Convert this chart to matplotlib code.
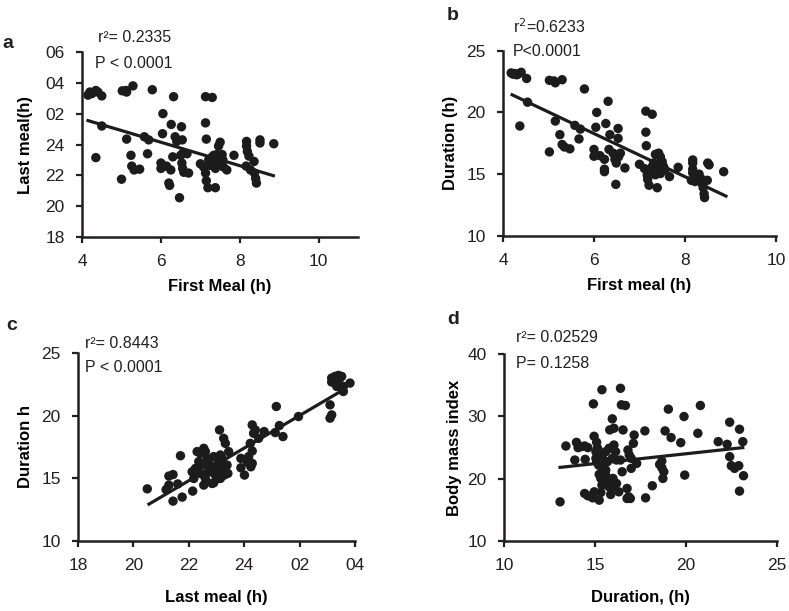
import matplotlib
matplotlib.use("Agg")
import matplotlib.pyplot as plt

plt.rcParams["font.family"] = ["Liberation Sans", "DejaVu Sans"]

# Panel a: first meal (h) vs last meal (h, past midnight written as 24+)
first_a = [4.15, 4.2, 4.25, 4.35, 4.4, 4.5, 4.5, 4.35, 5.02, 5.12, 5.13, 5.29, 5.78,
           5.13, 5.24, 5.26, 5.32, 5.46, 5.0, 5.58, 5.69, 5.66, 6.05, 6.04, 6.0, 6.0,
           6.14, 6.2, 6.22, 6.25, 6.26, 6.32, 6.3, 6.36, 6.4, 6.5, 6.52, 6.54, 6.47,
           6.53, 6.55, 6.58, 6.66, 6.7, 6.56, 7.13, 7.3, 7.13, 7.15, 7.0, 7.08, 7.13,
           7.15, 7.19, 7.38, 7.21, 7.3, 7.34, 7.38, 7.42, 7.46, 7.5, 7.55, 7.57, 7.58,
           7.67, 7.34, 7.25, 7.46, 7.85, 8.17, 8.17, 8.19, 8.23, 8.16, 8.27, 8.36, 8.37,
           8.4, 8.42, 8.51, 8.51, 8.86]
last_a = [27.2, 27.4, 27.3, 27.5, 27.4, 27.15, 25.2, 23.15, 27.48, 27.5, 27.4, 27.8, 27.55,
          24.35, 23.3, 22.6, 22.35, 22.4, 21.75, 24.5, 24.3, 23.4, 26.0, 24.7, 22.8, 22.45,
          22.6, 21.5, 21.35, 22.35, 25.3, 27.1, 23.2, 24.5, 24.2, 23.3, 25.15, 24.3, 20.55,
          22.8, 22.45, 22.2, 23.4, 22.15, 23.45, 27.1, 27.05, 25.4, 24.35, 22.75, 22.55, 22.15,
          21.65, 21.2, 21.2, 23.0, 23.2, 22.8, 22.45, 23.35, 23.9, 24.15, 23.35, 23.0, 22.55,
          22.35, 23.3, 22.65, 22.8, 23.3, 24.2, 23.9, 23.55, 23.25, 22.6, 22.35, 22.9, 22.15,
          21.8, 21.5, 24.3, 24.1, 24.05]
fit_a_x = [4.15, 8.85]
fit_a_y = [25.55, 21.98]

# Panel b: first meal vs duration
first_b = [4.18, 4.26, 4.33, 4.4, 4.3, 4.22, 4.52, 4.54, 4.37, 5.02, 5.12, 5.15, 5.3, 5.79,
           5.15, 5.25, 5.3, 5.35, 5.47, 5.02, 5.58, 5.7, 5.67, 6.06, 6.04, 6.31, 6.26, 6.35,
           6.53, 6.53, 6.0, 6.0, 6.13, 6.23, 6.23, 6.23, 6.33, 6.42, 6.46, 6.49, 6.54, 6.58,
           6.48, 6.68, 7.14, 7.28, 7.14, 7.15, 7.0, 7.11, 7.17, 7.18, 7.21, 7.39, 7.28, 7.35,
           7.42, 7.46, 7.31, 7.39, 7.46, 7.53, 7.5, 7.35, 7.28, 7.56, 7.42, 7.66, 7.85, 8.17,
           8.17, 8.17, 8.17, 8.14, 8.22, 8.31, 8.35, 8.38, 8.4, 8.42, 8.43, 8.49, 8.5, 8.53, 8.85]
dur_b = [23.2, 23.15, 23.1, 23.25, 23.05, 23.1, 22.75, 20.83, 18.9, 22.6, 22.55, 22.4, 22.65, 21.9,
         19.3, 18.2, 17.4, 17.2, 17.05, 16.8, 18.95, 18.65, 17.85, 20.0, 18.8, 20.9, 19.1, 18.2,
         18.7, 17.9, 17.0, 16.45, 16.5, 16.2, 15.4, 15.2, 17.0, 16.7, 16.2, 15.9, 16.4, 16.7,
         14.17, 15.5, 20.1, 19.85, 18.4, 17.3, 15.8, 15.45, 14.93, 14.57, 14.1, 13.9, 15.6, 16.6,
         16.7, 16.4, 15.9, 15.3, 15.05, 15.6, 16.0, 14.95, 15.05, 15.35, 15.75, 14.8, 15.55, 16.15,
         15.9, 15.4, 15.1, 14.5, 14.4, 15.0, 14.65, 14.2, 13.9, 13.4, 13.1, 14.5, 15.9, 15.75, 15.2]
fit_b_x = [4.2, 8.9]
fit_b_y = [21.43, 13.22]

# Panel c: last meal vs duration
last_c = [20.5, 21.18, 21.28, 21.28, 21.43, 21.43, 21.76, 21.7, 21.6, 22.14, 22.12, 22.18,
          22.3, 22.42, 22.54, 22.6, 22.36, 22.24, 22.48, 22.66, 22.72, 22.9, 22.54, 22.42,
          22.6, 22.54, 22.84, 22.9, 23.02, 23.08, 23.14, 23.2, 23.26, 22.78, 22.96, 23.14,
          23.08, 22.72, 23.11, 23.26, 23.32, 23.44, 23.38, 23.41, 23.14, 23.28, 22.9, 23.88,
          23.88, 24.01, 24.12, 24.16, 24.24, 24.29, 24.29, 24.22, 24.29, 24.34, 24.4, 24.52,
          24.72, 25.16, 25.12, 25.27, 25.4, 25.96, 27.1, 27.16, 27.1, 27.16, 27.28, 27.4,
          27.46, 27.52, 27.4, 27.34, 27.46, 27.58, 27.82, 27.16, 27.58]
dur_c = [14.16, 14.1, 14.46, 15.18, 15.3, 13.18, 13.5, 16.8, 14.55, 13.98, 15.52, 14.99,
         17.13, 16.99, 17.39, 17.13, 16.33, 15.79, 16.06, 16.59, 16.19, 16.73, 15.26, 15.39,
         14.99, 14.46, 14.59, 15.66, 16.06, 16.33, 16.86, 16.59, 15.79, 15.52, 15.26, 15.52,
         14.99, 15.66, 18.86, 18.19, 17.79, 17.13, 16.06, 15.39, 14.99, 15.26, 14.64, 16.59,
         15.84, 15.26, 16.27, 16.73, 15.92, 16.19, 17.18, 17.79, 19.26, 18.59, 18.86, 18.19,
         18.73, 20.73, 18.65, 19.21, 18.33, 19.93, 19.8, 20.06, 20.86, 23.0, 23.13, 23.21,
         23.0, 23.13, 22.46, 22.33, 22.33, 21.93, 22.6, 22.68, 22.33]
fit_c_x = [20.56, 27.58]
fit_c_y = [12.94, 22.06]

# Panel d: duration vs body mass index
dur_d = [13.08, 13.4, 13.89, 13.98, 14.07, 14.25, 14.43, 14.61, 14.46, 14.43, 14.61, 14.87,
         14.96, 14.91, 15.09, 15.05, 15.14, 15.09, 15.2, 15.23, 15.32, 15.38, 15.32, 15.23,
         15.14, 15.05, 14.95, 15.41, 15.59, 15.5, 15.59, 15.59, 15.41, 15.68, 15.77, 15.86,
         15.95, 15.99, 15.68, 15.77, 15.38, 15.95, 15.81, 16.04, 16.4, 16.45, 16.67, 16.54,
         16.04, 16.13, 15.95, 16.18, 16.4, 16.49, 16.31, 16.18, 16.76, 16.85, 16.94, 16.76,
         16.81, 16.88, 16.99, 16.99, 17.11, 17.15, 17.29, 17.74, 17.78, 18.15, 18.55, 18.67,
         18.78, 18.67, 18.73, 18.85, 19.03, 19.18, 19.71, 19.89, 19.93, 20.65, 20.79, 21.77,
         22.26, 22.4, 22.4, 22.49, 22.67, 22.9, 22.94, 23.12, 23.16, 22.94]
bmi_d = [16.28, 25.24, 22.99, 25.83, 24.98, 25.14, 25.24, 24.98, 23.1, 17.62, 17.25, 16.92,
         17.89, 32.0, 25.83, 24.33, 23.53, 22.72, 22.18, 20.68, 20.04, 18.96, 17.78, 16.55,
         24.87, 23.26, 26.8, 23.8, 24.33, 22.45, 21.38, 20.57, 21.38, 19.77, 18.7, 17.46,
         18.7, 20.04, 22.72, 24.87, 34.27, 29.6, 27.82, 28.09, 34.5, 31.85, 31.74, 27.82,
         25.4, 24.33, 23.26, 22.99, 22.99, 21.11, 17.89, 19.23, 18.43, 17.09, 16.82, 16.82,
         24.6, 23.8, 23.26, 21.65, 25.67, 27.0, 22.45, 27.66, 16.92, 18.86, 22.29, 21.76,
         21.11, 22.83, 20.04, 27.66, 31.15, 26.59, 25.78, 29.97, 20.57, 27.28, 31.74, 25.94,
         25.51, 23.53, 29.06, 22.08, 21.65, 22.08, 27.93, 25.94, 20.47, 18.0]
fit_d_x = [13.08, 23.12]
fit_d_y = [21.81, 24.98]

clock_ticks = [18, 20, 22, 24, 26, 28, 30]
clock_labels = ["18", "20", "22", "24", "02", "04", "06"]

ink = "#1c1c1c"
txt = "#231f20"

fig = plt.figure(figsize=(7.89, 6.11), dpi=100)


def style(ax):
    for s in ["top", "right"]:
        ax.spines[s].set_visible(False)
    for s in ["left", "bottom"]:
        ax.spines[s].set_linewidth(1.8)
        ax.spines[s].set_color(txt)
    ax.tick_params(direction="out", length=4.5, width=1.6, labelsize=12.5,
                   colors=txt, pad=8)
    ax.tick_params(axis="x", pad=8)


def panel(rect, x, y, fx, fy):
    ax = fig.add_axes(rect)
    ax.scatter(x, y, s=46, color=ink, edgecolors="none", zorder=3, clip_on=False)
    ax.plot(fx, fy, color=ink, linewidth=2.3, zorder=2)
    style(ax)
    return ax


# a
ax = panel([0.104, 0.612, 0.350, 0.303], first_a, last_a, fit_a_x, fit_a_y)
ax.set_xlim(4, 11)
ax.set_xticks([4, 6, 8, 10])
ax.set_ylim(18, 30)
ax.set_yticks(clock_ticks)
ax.set_yticklabels(clock_labels)
ax.set_xlabel("First Meal (h)", fontsize=12, fontweight="bold", labelpad=7)
ax.set_ylabel("Last meal(h)", fontsize=12, fontweight="bold", labelpad=9)

# b
ax = panel([0.6375, 0.614, 0.346, 0.303], first_b, dur_b, fit_b_x, fit_b_y)
ax.set_xlim(4, 10)
ax.set_xticks([4, 6, 8, 10])
ax.set_ylim(10, 25)
ax.set_yticks([10, 15, 20, 25])
ax.set_xlabel("First meal (h)", fontsize=12, fontweight="bold", labelpad=7)
ax.set_ylabel("Duration (h)", fontsize=12, fontweight="bold", labelpad=6)

# c
ax = panel([0.0989, 0.1146, 0.351, 0.3077], last_c, dur_c, fit_c_x, fit_c_y)
ax.set_xlim(18, 28)
ax.set_xticks(clock_ticks[:-1])
ax.set_xticklabels(clock_labels[:-1])
ax.set_ylim(10, 25)
ax.set_yticks([10, 15, 20, 25])
ax.set_xlabel("Last meal (h)", fontsize=12, fontweight="bold", labelpad=12)
ax.set_ylabel("Duration h", fontsize=12, fontweight="bold", labelpad=6)

# d
ax = panel([0.6388, 0.1146, 0.346, 0.306], dur_d, bmi_d, fit_d_x, fit_d_y)
ax.set_xlim(10, 25)
ax.set_xticks([10, 15, 20, 25])
ax.set_ylim(10, 40)
ax.set_yticks([10, 20, 30, 40])
ax.set_xlabel("Duration, (h)", fontsize=12, fontweight="bold", labelpad=12)
ax.set_ylabel("Body mass index", fontsize=12, fontweight="bold", labelpad=4)

# statistics text (figure pixel positions from the top-left)
W, H = 789, 611
stats = [
    (98, 37, "r²= 0.2335"), (95, 63, "P < 0.0001"),
    (513, 27, "r$^2$=0.6233"), (513, 52, "P<0.0001"),
    (85, 343, "r²= 0.8443"), (85, 368, "P < 0.0001"),
    (516, 338, "r²= 0.02529"), (516, 364, "P= 0.1258"),
]
for px, py, s in stats:
    fig.text(px / W, 1 - py / H, s, fontsize=11.5, color=txt, ha="left", va="center")

letters = [(2, 43, "a"), (447, 15, "b"), (6, 325, "c"), (447, 320, "d")]
for px, py, s in letters:
    fig.text(px / W, 1 - py / H, s, fontsize=14, fontweight="bold", color=txt,
             ha="left", va="center")

fig.savefig("out.png", dpi=100, facecolor="white")
